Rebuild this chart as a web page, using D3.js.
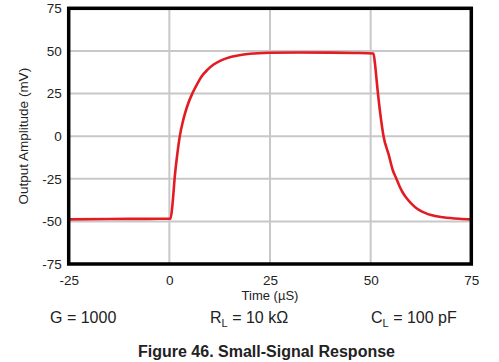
<!DOCTYPE html>
<html>
<head>
<meta charset="utf-8">
<script src="https://cdn.jsdelivr.net/npm/d3@7"></script>
<style>
  body { margin: 0; background: #fff; }
  text { font-family: "Liberation Sans", Arial, sans-serif; fill: #222; }
</style>
</head>
<body>
<div id="chart"></div>
<script>
// tick values
var xTicks = [-25, 0, 25, 50, 75]
, yTicks = [-75, -50, -25, 0, 25, 50, 75]

// output trace: time (uS), amplitude (mV)
, traceTime = [-25, -15, -5, 0.3, 0.7, 1.0, 1.3, 1.9, 2.6, 3.5, 4.5, 5.7, 7, 8, 9.5, 11, 13, 15, 17, 20, 25, 32, 40, 46, 50.7,
               51.1, 51.6, 52.3, 53.2, 54.5, 55.5, 56.4, 57.2, 58, 59, 60, 61, 62, 63.5, 65, 68, 72, 75]
, traceMv = [-48.8, -48.6, -48.5, -48.4, -42, -34, -25, -12, 0, 10, 18, 25, 31, 35, 39, 42, 44.6, 46.3, 47.3, 48.3, 48.9, 49.1, 49, 48.8, 48.5,
             42, 30, 15, 0, -11, -20, -25, -29.5, -33.2, -36.6, -39.3, -41.5, -43.2, -45, -46.3, -47.6, -48.5, -48.8];

(function() {
var w = 499
, h = 362
, pLeft = 68.7
, pRight = 471.3
, pTop = 8.3
, pBottom = 264
, svg
, x
, y
, line
, pts;

svg = d3.select("#chart")
	.append("svg")
	.attr("width", w)
	.attr("height", h);

x = d3.scaleLinear().domain([-25, 75]).range([pLeft, pRight]);
y = d3.scaleLinear().domain([-75, 75]).range([pBottom, pTop]);

// grid
svg.append("g").selectAll("line")
	.data(xTicks.slice(1, -1))
	.enter().append("line")
	.attr("x1", function(d) { return x(d); })
	.attr("x2", function(d) { return x(d); })
	.attr("y1", pTop)
	.attr("y2", pBottom)
	.attr("stroke", "#c8c8c8")
	.attr("stroke-width", 2);

svg.append("g").selectAll("line")
	.data(yTicks.slice(1, -1))
	.enter().append("line")
	.attr("y1", function(d) { return y(d); })
	.attr("y2", function(d) { return y(d); })
	.attr("x1", pLeft)
	.attr("x2", pRight)
	.attr("stroke", "#c8c8c8")
	.attr("stroke-width", 2);

// trace
pts = traceTime.map(function(t, i) { return [t, traceMv[i]]; });
line = d3.line()
	.x(function(d) { return x(d[0]); })
	.y(function(d) { return y(d[1]); })
	.curve(d3.curveMonotoneX);

svg.append("path")
	.datum(pts)
	.attr("d", line)
	.attr("fill", "none")
	.attr("stroke", "#e31b23")
	.attr("stroke-width", 2.6)
	.attr("stroke-linejoin", "round");

// frame
svg.append("rect")
	.attr("x", pLeft)
	.attr("y", pTop)
	.attr("width", pRight - pLeft)
	.attr("height", pBottom - pTop)
	.attr("fill", "none")
	.attr("stroke", "#000")
	.attr("stroke-width", 3.5);

// axes (labels only)
var fmt = function(d) { return String(d); };
var xAxis = svg.append("g")
	.attr("transform", "translate(0," + pBottom + ")")
	.call(d3.axisBottom(x).tickValues(xTicks).tickFormat(fmt).tickSize(0).tickPadding(11));
var yAxis = svg.append("g")
	.attr("transform", "translate(" + pLeft + ",0)")
	.call(d3.axisLeft(y).tickValues(yTicks).tickFormat(fmt).tickSize(0).tickPadding(7));

[xAxis, yAxis].forEach(function(g) {
	g.select(".domain").remove();
	g.selectAll("text")
		.attr("font-family", "Liberation Sans, Arial, sans-serif")
		.attr("font-size", 13.5)
		.attr("fill", "#222");
});

svg.append("text")
	.attr("x", x(25))
	.attr("y", 300)
	.attr("text-anchor", "middle")
	.attr("font-size", 13)
	.text("Time (µS)");

svg.append("text")
	.attr("transform", "translate(28," + y(0) + ") rotate(-90)")
	.attr("text-anchor", "middle")
	.attr("font-size", 13.5)
	.text("Output Amplitude (mV)");

// conditions
svg.append("text")
	.attr("x", 50)
	.attr("y", 323)
	.attr("font-size", 16)
	.text("G = 1000");

var rl = svg.append("text")
	.attr("x", 210)
	.attr("y", 323)
	.attr("font-size", 16);
rl.append("tspan").text("R");
rl.append("tspan").attr("font-size", 11).attr("dy", 4).text("L");
rl.append("tspan").attr("dy", -4).text(" = 10 kΩ");

var cl = svg.append("text")
	.attr("x", 371)
	.attr("y", 323)
	.attr("font-size", 16);
cl.append("tspan").text("C");
cl.append("tspan").attr("font-size", 11).attr("dy", 4).text("L");
cl.append("tspan").attr("dy", -4).text(" = 100 pF");

svg.append("text")
	.attr("x", 266.5)
	.attr("y", 357)
	.attr("text-anchor", "middle")
	.attr("font-size", 16)
	.attr("font-weight", "bold")
	.text("Figure 46. Small-Signal Response");
}());
</script>
</body>
</html>
